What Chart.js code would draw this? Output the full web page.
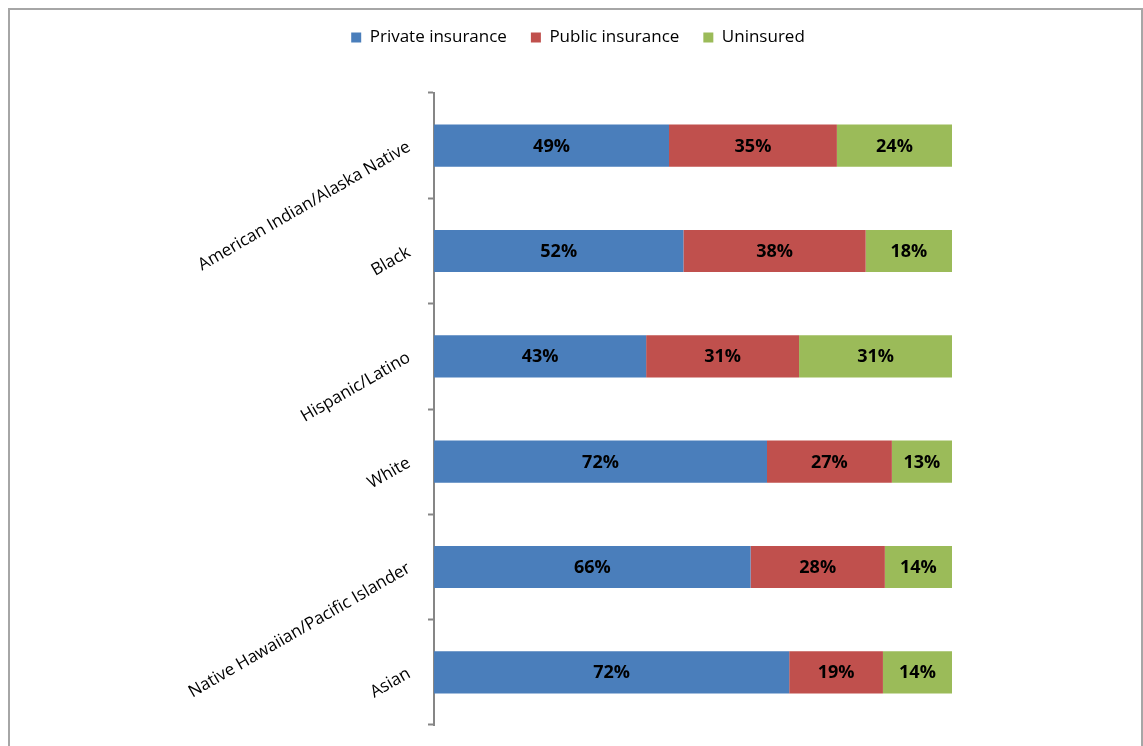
<!DOCTYPE html>
<html lang="en">
  <head>
    <meta charset="UTF-8" />
    <title>Insurance coverage by race/ethnicity</title>
    <script src="https://cdn.jsdelivr.net/npm/chart.js"></script>
    <style>
      body {
        margin: 0;
        background: #ffffff;
        font-family: "Open Sans", sans-serif;
      }
      .frame {
        position: absolute;
        left: 8px;
        top: 8px;
        width: 1131px;
        height: 760px;
        border: 2px solid #a6a6a6;
      }
      canvas {
        position: absolute;
        left: 0;
        top: 0;
      }
    </style>
  </head>
  <body>
    <div class="frame"></div>
    <canvas id="coverageChart" width="1143" height="746"></canvas>

    <script>
      // values as printed on the bars (percent)
      const groups = [
        "American Indian/Alaska Native",
        "Black",
        "Hispanic/Latino",
        "White",
        "Native Hawaiian/Pacific Islander",
        "Asian",
      ];
      const privateIns = [49, 52, 43, 72, 66, 72];
      const publicIns = [35, 38, 31, 27, 28, 19];
      const uninsured = [24, 18, 31, 13, 14, 14];

      // each bar is stretched to 100%
      const totals = groups.map((g, i) => privateIns[i] + publicIns[i] + uninsured[i]);
      const share = (arr) => arr.map((v, i) => (v / totals[i]) * 100);

      Chart.defaults.font.family = "'Open Sans', sans-serif";
      Chart.defaults.color = "#000";

      // write the printed value in the middle of each segment
      const barLabels = {
        id: "barLabels",
        afterDatasetsDraw(chart) {
          const ctx = chart.ctx;
          ctx.save();
          ctx.font = "bold 18px 'Open Sans', sans-serif";
          ctx.fillStyle = "#000";
          ctx.textAlign = "center";
          ctx.textBaseline = "middle";
          chart.data.datasets.forEach((ds, di) => {
            chart.getDatasetMeta(di).data.forEach((bar, i) => {
              const p = bar.getProps(["x", "y", "base"], true);
              ctx.fillText(ds.raw[i] + "%", (p.x + p.base) / 2, p.y + 1);
            });
          });
          ctx.restore();
        },
      };

      // legend: fixed height, centred a bit right of the canvas middle
      const legendSpace = {
        id: "legendSpace",
        beforeUpdate(chart) {
          const lg = chart.legend;
          if (lg && !lg._patched) {
            const fit = lg.fit;
            lg.fit = function () {
              fit.call(this);
              this.height = 88;
            };
            lg._patched = true;
          }
        },
        beforeDraw(chart) {
          const lg = chart.legend;
          lg.left = 204;
          lg.right = 952;
          lg.width = 748;
        },
      };

      new Chart(document.getElementById("coverageChart"), {
        type: "bar",
        data: {
          labels: groups,
          datasets: [
            {
              label: "Private insurance",
              data: share(privateIns),
              raw: privateIns,
              backgroundColor: "#4a7ebb",
            },
            {
              label: "Public insurance",
              data: share(publicIns),
              raw: publicIns,
              backgroundColor: "#c0504d",
            },
            {
              label: "Uninsured",
              data: share(uninsured),
              raw: uninsured,
              backgroundColor: "#9bbb59",
            },
          ],
        },
        options: {
          indexAxis: "y",
          responsive: false,
          animation: false,
          devicePixelRatio: 1,
          categoryPercentage: 1,
          barPercentage: 0.4,
          layout: {
            padding: { top: 5, right: 191, bottom: 21, left: 0 },
          },
          plugins: {
            legend: {
              position: "top",
              labels: {
                boxWidth: 10,
                boxHeight: 10,
                padding: 24,
                color: "#000",
                font: { size: 17 },
              },
            },
            tooltip: { enabled: false },
          },
          scales: {
            x: {
              stacked: true,
              min: 0,
              max: 100,
              display: false,
            },
            y: {
              stacked: true,
              afterFit(scale) {
                scale.width = 434;
                scale.paddingTop = 0;
                scale.paddingBottom = 0;
              },
              border: { display: true, color: "#868686", width: 2 },
              grid: {
                drawOnChartArea: false,
                drawTicks: true,
                tickLength: 6,
                tickWidth: 2,
                color: "#868686",
              },
              ticks: {
                minRotation: 30,
                padding: 19,
                color: "#000",
                font: { size: 17 },
              },
            },
          },
        },
        plugins: [barLabels, legendSpace],
      });
    </script>
  </body>
</html>
